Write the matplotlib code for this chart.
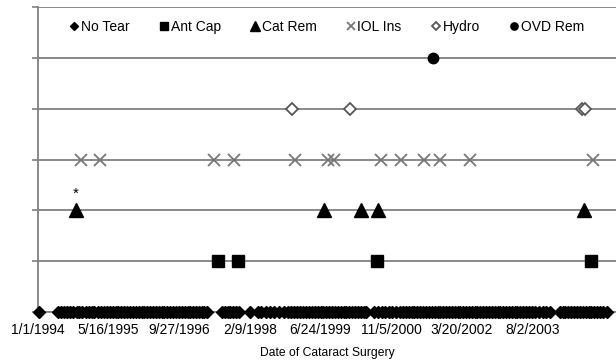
"""Timeline of cataract surgery complications, one row per event type."""

import matplotlib.pyplot as plt
import pandas as pd

plt.rcParams['font.family'] = ['Liberation Sans', 'DejaVu Sans']

NO_TEAR = [
    '1994-01-10', '1994-05-20', '1994-06-10', '1994-07-01', '1994-07-25', '1994-08-15',
    '1994-09-05', '1994-10-01', '1994-10-20', '1994-11-10', '1994-12-05', '1994-12-25',
    '1995-01-15', '1995-02-05', '1995-03-01', '1995-03-20', '1995-04-15', '1995-05-05',
    '1995-05-25', '1995-06-15', '1995-07-05', '1995-07-25', '1995-08-15', '1995-09-05',
    '1995-09-25', '1995-10-15', '1995-11-05', '1995-11-25', '1995-12-15',
    '1996-01-05', '1996-01-25', '1996-02-15', '1996-03-05', '1996-03-25', '1996-04-15',
    '1996-05-05', '1996-05-25', '1996-06-15', '1996-07-05', '1996-07-25', '1996-08-15',
    '1996-09-05', '1996-09-25', '1996-10-15', '1996-11-05', '1996-11-25', '1996-12-15',
    '1997-01-05', '1997-01-25', '1997-02-15', '1997-03-05', '1997-03-25', '1997-04-15',
    '1997-07-25', '1997-08-15', '1997-09-05', '1997-09-25', '1997-10-15', '1997-11-05',
    '1997-11-28',
    '1998-02-10', '1998-04-05', '1998-05-01', '1998-06-05', '1998-07-01', '1998-08-01',
    '1998-09-01', '1998-10-10', '1998-11-05', '1998-11-28', '1998-12-20',
    '1999-01-10', '1999-02-01', '1999-02-22', '1999-03-15', '1999-04-05', '1999-04-25',
    '1999-05-15', '1999-06-05', '1999-06-25', '1999-07-15', '1999-08-05', '1999-08-25',
    '1999-09-15', '1999-10-05', '1999-10-25', '1999-11-15', '1999-12-05', '1999-12-25',
    '2000-01-15', '2000-02-05', '2000-02-25', '2000-03-15', '2000-04-05', '2000-04-25',
    '2000-05-15', '2000-07-10', '2000-08-05', '2000-09-01', '2000-09-25', '2000-10-20',
    '2000-11-15', '2000-12-10',
    '2001-01-05', '2001-02-01', '2001-02-20', '2001-03-10', '2001-04-01', '2001-04-20',
    '2001-05-10', '2001-06-01', '2001-06-20', '2001-07-10', '2001-08-01', '2001-08-20',
    '2001-09-10', '2001-10-01', '2001-10-20', '2001-11-10', '2001-12-01', '2001-12-20',
    '2002-01-10', '2002-02-01', '2002-02-20', '2002-03-10', '2002-04-01', '2002-04-20',
    '2002-05-10', '2002-06-01', '2002-06-20', '2002-07-10', '2002-08-01', '2002-08-20',
    '2002-09-10', '2002-10-01', '2002-10-20', '2002-11-10', '2002-12-01', '2002-12-20',
    '2003-01-10', '2003-02-01', '2003-02-20', '2003-03-10', '2003-04-01', '2003-04-20',
    '2003-05-10', '2003-06-01', '2003-06-20', '2003-07-10', '2003-08-01', '2003-08-25',
    '2003-09-20', '2003-10-15', '2003-11-10', '2003-12-05',
    '2004-02-15', '2004-03-05', '2004-03-25', '2004-04-15', '2004-05-05', '2004-05-25',
    '2004-06-15', '2004-07-05', '2004-07-25', '2004-08-15', '2004-09-05', '2004-09-25',
    '2004-10-15', '2004-11-05', '2004-11-25', '2004-12-15', '2005-01-10',
]
ANT_CAP = ['1997-07-01', '1997-11-20', '2000-07-27', '2004-09-23']
CAT_REM = ['1994-09-28', '1999-07-17', '2000-04-04', '2000-08-03', '2004-08-04']
IOL_INS = ['1994-11-02', '1995-03-16', '1997-06-03', '1997-10-23', '1998-12-23',
           '1999-08-14', '1999-09-26', '2000-08-24', '2001-01-13', '2001-06-25',
           '2001-10-17', '2002-05-18', '2004-10-07']
HYDRO = ['1998-12-02', '2000-01-17', '2004-07-21', '2004-08-11']
OVD_REM = ['2001-08-28']

TICK_LABELS = ['1/1/1994', '5/16/1995', '9/27/1996', '2/9/1998',
               '6/24/1999', '11/5/2000', '3/20/2002', '8/2/2003']
STARRED = '1994-09-28'

series = [
    ('No Tear', NO_TEAR, 0, dict(marker='D', ms=6, color='black')),
    ('Ant Cap', ANT_CAP, 1, dict(marker='s', ms=8, color='black')),
    ('Cat Rem', CAT_REM, 2, dict(marker='^', ms=9.5, color='black')),
    ('IOL Ins', IOL_INS, 3, dict(marker='x', ms=8, color='#777777', mew=1.3)),
    ('Hydro', HYDRO, 4, dict(marker='D', ms=6, mfc='white', mec='#555555', mew=1.3)),
    ('OVD Rem', OVD_REM, 5, dict(marker='o', ms=7.5, color='black')),
]

fig = plt.figure(figsize=(6.16, 3.64), dpi=100)
ax = fig.add_axes([38 / 616, 1 - 312 / 364, 578 / 616, 305 / 364])

for name, dates, level, style in series:
    d = pd.to_datetime(dates)
    ax.plot(d, [level] * len(d), linestyle='none', label=name,
            clip_on=False, zorder=3, **style)

ax.annotate('*', (pd.Timestamp(STARRED), 2), xytext=(0, 7),
            textcoords='offset points', ha='center', va='bottom', fontsize=11)

ax.set_ylim(0, 6)
ax.set_yticks(range(7))
ax.set_yticklabels([])
ax.yaxis.grid(True, color='#808080', lw=1.3)
ax.set_axisbelow(True)
ax.tick_params(axis='y', length=4, width=1.2, color='#808080')

ticks = pd.to_datetime(TICK_LABELS, format='%m/%d/%Y')
ax.set_xticks(ticks)
ax.set_xticklabels(TICK_LABELS, fontsize=10)
ax.tick_params(axis='x', length=0, pad=8)
ax.set_xlim(pd.Timestamp('1994-01-01'), pd.Timestamp('2005-03-18'))
ax.set_xlabel('Date of Cataract Surgery', fontsize=8.7, labelpad=7)

for side in ['top', 'right']:
    ax.spines[side].set_visible(False)
for side in ['left', 'bottom']:
    ax.spines[side].set_color('#808080')
    ax.spines[side].set_linewidth(1.3)

ax.legend(loc='center', bbox_to_anchor=(0.5, 0.935), ncol=6, frameon=False,
          fontsize=10, markerscale=0.7, handlelength=0.6, handletextpad=0.2,
          columnspacing=2.15)

fig.savefig('out.png', dpi=100)
